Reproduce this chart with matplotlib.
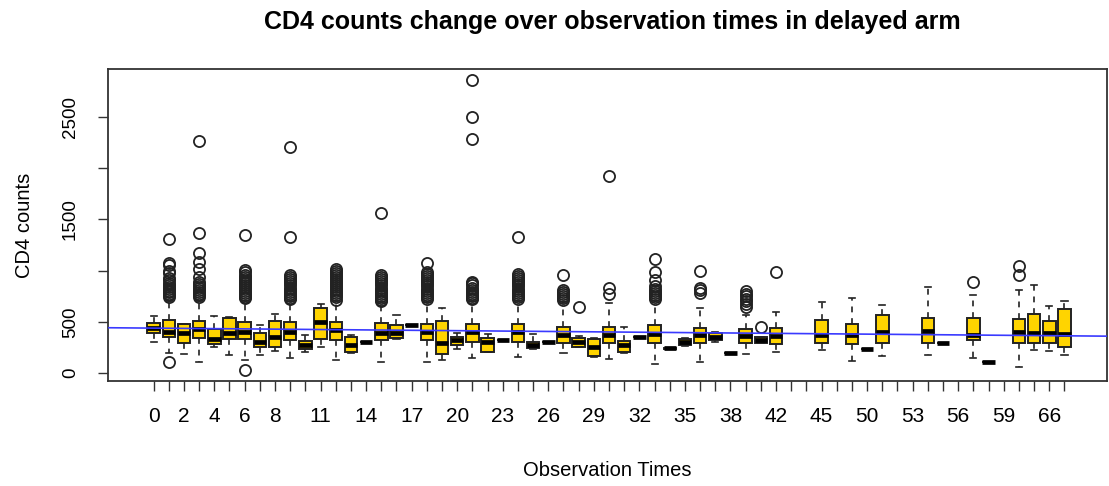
import numpy as np
import matplotlib as mpl
import matplotlib.pyplot as plt

mpl.rcParams['font.family'] = ['Liberation Sans', 'DejaVu Sans']

# observation times (factor levels, in plotting order)
times = list(range(0, 39)) + [39, 41, 42, 43, 44, 45, 47, 48, 50, 51, 52, 53, 54, 55,
                              56, 57, 58, 59, 62, 64, 66, 68]
shown_labels = [0, 2, 4, 6, 8, 11, 14, 17, 20, 23, 26, 29, 32, 35, 38, 42, 45, 50, 53, 56, 59, 66]

nan = np.nan
# five number summaries (nan = no data at that time)
q1 = [387, 355, 296, 339, 283, 329, 335, 251, 251, 322, 231, 329, 322, 208, 306, 322, 339, 465, 322, 186,
      273, 306, 208, 322, 306, 241, 300, 290, 257, 169, 290, 208, 355, 296, 236, 273, 296, 322, 198, 296,
      296, 280, nan, nan, 296, nan, 283, 234, 296, nan, nan, 296, 290, nan, 322, 104, nan, 296, 296, 296, 251]
med = [436, 404, 394, 427, 335, 394, 403, 306, 355, 403, 273, 495, 420, 273, 306, 394, 387, 469, 397, 290,
       322, 397, 300, 322, 397, 273, 300, 371, 300, 251, 371, 273, 355, 381, 241, 306, 371, 355, 198, 361,
       322, 361, nan, nan, 371, nan, 371, 234, 404, nan, nan, 413, 290, nan, 371, 104, nan, 403, 387, 387, 381]
q3 = [485, 518, 475, 511, 427, 534, 495, 387, 511, 501, 316, 632, 501, 355, 306, 485, 469, 473, 475, 511,
      349, 479, 339, 322, 475, 306, 300, 453, 339, 329, 453, 316, 355, 469, 247, 329, 443, 394, 198, 427,
      349, 443, nan, nan, 518, nan, 479, 234, 566, nan, nan, 534, 290, nan, 534, 104, nan, 527, 576, 511, 625]
whis_lo = [306, 192, 186, 110, 251, 176, 127, 176, 218, 143, 208, 251, 127, 200, 306, 110, 330, 465, 110, 127,
           231, 143, 205, 322, 159, 235, 300, 192, 250, 160, 136, 200, 355, 88, 236, 265, 110, 300, 198, 182,
           290, 209, nan, nan, 225, nan, 117, 234, 166, nan, nan, 176, 290, nan, 143, 104, nan, 62, 225, 218, 176]
whis_hi = [557, 700, 480, 700, 557, 550, 700, 469, 573, 700, 371, 674, 700, 370, 306, 690, 566, 473, 690, 632,
           387, 700, 381, 322, 700, 378, 300, 690, 360, 340, 687, 446, 355, 700, 247, 340, 632, 400, 198, 566,
           355, 593, nan, nan, 690, nan, 729, 234, 664, nan, nan, 843, 290, nan, 762, 104, nan, 811, 859, 650, 706]

# outlying points by observation time
fliers = {
    1: [1309, 1071, 1050, 1000, 974, 930, 906, 880, 860, 840, 820, 800, 790, 775, 760, 745, 107],
    3: [2266, 1364, 1169, 1087, 1012, 934, 890, 870, 850, 830, 810, 790, 775, 760, 745],
    6: [1348, 1006, 985, 960, 940, 920, 900, 880, 860, 840, 820, 800, 780, 760, 740, 729, 29],
    9: [2207, 1331, 957, 935, 915, 895, 875, 855, 835, 815, 795, 775, 755, 735, 720],
    12: [1020, 1000, 980, 960, 940, 920, 900, 880, 860, 840, 820, 800, 780, 760, 740, 715],
    15: [1560, 957, 935, 915, 895, 875, 855, 835, 815, 795, 775, 755, 735, 715, 700],
    18: [1071, 990, 965, 945, 925, 905, 885, 865, 845, 825, 805, 785, 765, 745, 725],
    21: [2861, 2497, 2285, 893, 875, 855, 835, 815, 795, 775, 755, 735, 720],
    24: [1331, 970, 945, 925, 905, 885, 865, 845, 825, 805, 785, 765, 745, 725],
    27: [957, 810, 790, 770, 750, 730, 710],
    28: [645],
    30: [1924, 833, 769],
    33: [1110, 990, 908, 850, 825, 800, 780, 760, 740, 720],
    36: [996, 833, 810, 778],
    39: [800, 775, 750, 725, 700, 672, 648],
    41: [446],
    42: [990],
    57: [892],
    62: [1045, 957],
}

# fitted trend line (in box position units)
trend_intercept = 438.4
trend_slope = -1.25

fig = plt.figure(figsize=(11.09, 4.86), dpi=100)
ax = fig.add_axes([108/1109, 1-381/486, (1107-108)/1109, (381-69)/486])

stats = []
pos = []
for i, t in enumerate(times):
    if np.isnan(med[i]):
        continue
    stats.append(dict(med=med[i], q1=q1[i], q3=q3[i], whislo=whis_lo[i], whishi=whis_hi[i],
                      fliers=fliers.get(t, [])))
    pos.append(i)

ax.bxp(stats, positions=pos, widths=0.82, patch_artist=True, capwidths=0.4,
       boxprops=dict(facecolor='#FFD400', edgecolor='#222222', linewidth=1.4),
       medianprops=dict(color='black', linewidth=3.4, solid_capstyle='butt'),
       whiskerprops=dict(color='#222222', linewidth=1.2, linestyle=(0, (3.5, 3.5))),
       capprops=dict(color='#222222', linewidth=1.2),
       flierprops=dict(marker='o', markerfacecolor='none', markeredgecolor='#222222',
                       markersize=8, markeredgewidth=1.3))

ax.axline((0, trend_intercept), slope=trend_slope, color='#3a3aff', linewidth=1.2, zorder=5)

ax.set_xlim(-3.0, 62.8)
ax.set_ylim(-78, 2969)

ax.set_xticks(range(len(times)))
ax.set_xticklabels([str(t) if t in shown_labels else '' for t in times], fontsize=15)
ax.set_yticks([0, 500, 1000, 1500, 2000, 2500])
ax.set_yticklabels(['0', '500', '', '1500', '', '2500'], fontsize=13.5, rotation=90, va='center')
ax.tick_params(axis='x', length=7, width=1, pad=12, color='#333333')
ax.tick_params(axis='y', length=7, width=1, pad=14, color='#333333')
for s in ax.spines.values():
    s.set_linewidth(1.3)
    s.set_color('#333333')

ax.set_xlabel('Observation Times', fontsize=14.5, labelpad=25)
ax.set_ylabel('CD4 counts', fontsize=14.5, labelpad=20)
fig.suptitle('CD4 counts change over observation times in delayed arm', fontsize=18,
             fontweight='bold', x=0.552, y=0.98)

plt.savefig('out.png', dpi=100)
